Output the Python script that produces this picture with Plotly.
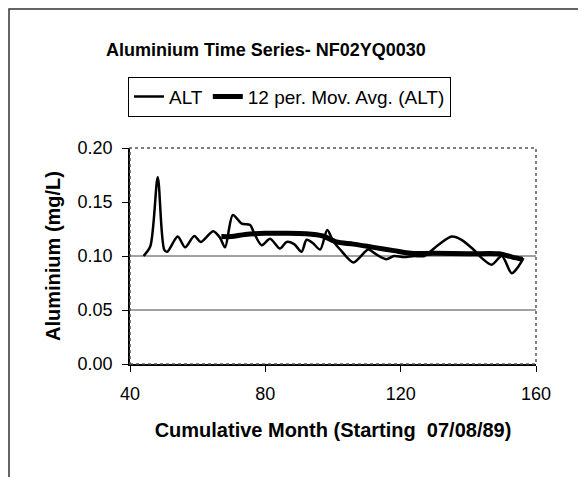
import plotly.graph_objects as go

# ALT series (month, mg/L)
alt_month = [44, 46, 48.2, 50.1, 51, 54.1, 56.3, 59.0, 60.9, 64.6, 66.6, 68.1, 70.4, 73.0,
             75.5, 76.5, 78.9, 81.4, 84.3, 86.3, 88.5, 90.7, 92.2, 94, 96.2, 98.3, 100,
             102.1, 106.0, 108, 110.4, 113, 115.8, 118, 121, 124, 127, 131, 135.1, 138,
             141.5, 144, 146.9, 149.9, 152.8, 154.5, 156.3]
alt_value = [0.100, 0.109, 0.173, 0.106, 0.104, 0.118, 0.108, 0.1185, 0.113, 0.123, 0.117,
             0.108, 0.138, 0.130, 0.1287, 0.1225, 0.110, 0.116, 0.107, 0.113, 0.111, 0.104,
             0.115, 0.112, 0.106, 0.124, 0.114, 0.106, 0.094, 0.099, 0.106, 0.101, 0.097,
             0.100, 0.099, 0.100, 0.100, 0.110, 0.118, 0.115, 0.106, 0.098, 0.092, 0.100,
             0.084, 0.089, 0.098]

# 12 period moving average
ma_month = [67, 70, 74, 80, 86, 92, 97, 101, 106, 112, 118, 123, 130, 140, 149, 153, 156]
ma_value = [0.118, 0.118, 0.120, 0.121, 0.121, 0.1205, 0.1185, 0.113, 0.111, 0.108, 0.105,
            0.1025, 0.1025, 0.102, 0.102, 0.099, 0.097]

x_ticks = [40, 80, 120, 160]
y_ticks = [0.00, 0.05, 0.10, 0.15, 0.20]
grid_levels = [0.05, 0.10]

FONT = "Liberation Sans, Arial, sans-serif"

fig = go.Figure()
fig.add_trace(go.Scatter(x=alt_month, y=alt_value, mode="lines", name="ALT",
                         line=dict(color="black", width=2.5, shape="spline", smoothing=0.8)))
fig.add_trace(go.Scatter(x=ma_month, y=ma_value, mode="lines", name="12 per. Mov. Avg. (ALT)",
                         line=dict(color="black", width=5, shape="spline", smoothing=0.8)))

for g in grid_levels:
    fig.add_hline(y=g, line=dict(color="#444", width=1), layer="below")

# dotted plot frame
fig.add_shape(type="rect", xref="paper", yref="paper", x0=0, y0=0, x1=1, y1=1,
              line=dict(color="#555", width=1.5, dash="dot"), layer="above")
# outer chart border
fig.add_shape(type="rect", xref="paper", yref="paper", x0=-0.298, y0=-0.6, x1=1.2, y1=1.644,
              line=dict(color="#333", width=1.5))

fig.update_layout(
    width=578, height=469,
    margin=dict(l=122, r=50, t=140, b=113),
    paper_bgcolor="white", plot_bgcolor="white",
    font=dict(family=FONT, color="black", size=18),
    title=dict(text="<b>Aluminium Time Series- NF02YQ0030</b>", x=258 / 578, xanchor="center",
               y=1 - 42 / 469, yanchor="middle", font=dict(size=18, family=FONT)),
    legend=dict(orientation="h", x=-0.005, xanchor="left", y=1.33, yanchor="top",
                bordercolor="black", borderwidth=1, bgcolor="white",
                font=dict(size=19, family=FONT), itemwidth=30, tracegroupgap=0),
    showlegend=True,
    xaxis=dict(range=[40, 160], tickvals=x_ticks, ticktext=[str(v) for v in x_ticks],
               showgrid=False, zeroline=False, showline=True, linecolor="black", linewidth=1.5,
               ticks="outside", ticklen=6, tickcolor="black", ticklabelstandoff=7,
               tickfont=dict(size=18, family=FONT),
               title=dict(text="<b>Cumulative Month (Starting  07/08/89)</b>",
                          font=dict(size=20, family=FONT), standoff=20)),
    yaxis=dict(range=[0, 0.20], tickvals=y_ticks, ticktext=[f"{v:.2f}" for v in y_ticks],
               showgrid=False, zeroline=False, showline=True, linecolor="black", linewidth=1.5,
               ticks="outside", ticklen=6, tickcolor="black", ticklabelstandoff=6,
               tickfont=dict(size=18, family=FONT),
               title=dict(text="<b>Aluminium (mg/L)</b>", font=dict(size=20, family=FONT),
                          standoff=12)),
)

fig.write_html("out.html")
